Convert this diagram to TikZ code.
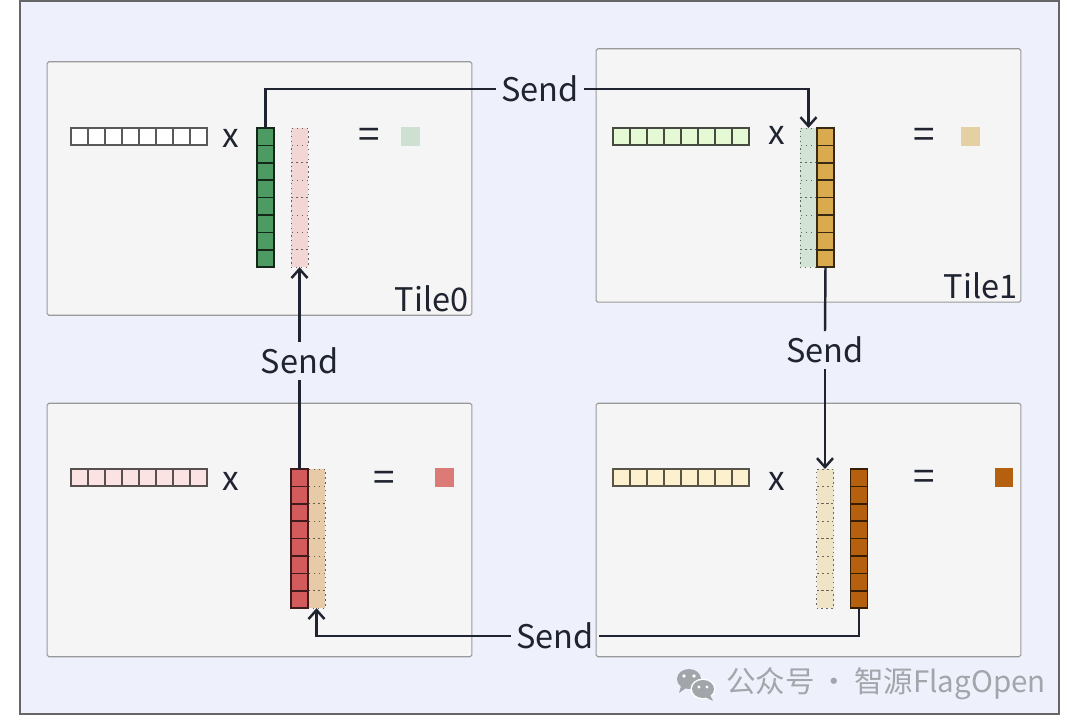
\documentclass[tikz,border=0pt]{standalone}
\usepackage{fontspec}
\setmainfont{Noto Sans CJK SC}
\usepackage{tikz}
\usetikzlibrary{arrows.meta}
\definecolor{PageBg}{HTML}{EEF1FC}
\definecolor{TileBg}{HTML}{F5F5F5}
\definecolor{TextDark}{HTML}{1F2430}
\definecolor{MarkGray}{HTML}{A2A5AA}
\definecolor{RowA}{HTML}{FFFFFF}
\definecolor{RowB}{HTML}{E6F9D5}
\definecolor{RowC}{HTML}{FCE3E3}
\definecolor{RowD}{HTML}{FDF0CF}
\definecolor{GreenCol}{HTML}{4E9A63}
\definecolor{PinkCol}{HTML}{F2D5D5}
\definecolor{MintCol}{HTML}{D3E3D5}
\definecolor{GoldCol}{HTML}{D9AA4E}
\definecolor{RedCol}{HTML}{D45B5B}
\definecolor{TanCol}{HTML}{E7CBA9}
\definecolor{CreamCol}{HTML}{EFE4C6}
\definecolor{BrownCol}{HTML}{B5600F}
\definecolor{ResA}{HTML}{CDE0D2}
\definecolor{ResB}{HTML}{E5D0A4}
\definecolor{ResC}{HTML}{DB7A76}

\begin{document}
\begin{tikzpicture}[x=0.02cm,y=-0.02cm,
    tile/.style={draw=black!40,fill=TileBg,line width=0.6pt,rounded corners=1pt,
      minimum width=8.5cm,minimum height=5.07cm,inner sep=0pt},
    cell/.style={draw,line width=0.6pt,minimum width=0.34cm,minimum height=0.34cm,inner sep=0pt,outer sep=0pt},
    ccell/.style={cell,minimum height=0.348cm,line width=0.8pt},
    dcell/.style={ccell,dotted,line width=0.5pt},
    op/.style={text=TextDark,font=\fontsize{19}{20}\selectfont,inner sep=0pt},
    eq/.style={op,font=\fontsize{22}{24}\selectfont},
    lbl/.style={text=TextDark,font=\fontsize{18.5}{22}\selectfont,inner sep=2pt},
    send/.style={text=TextDark,font=\fontsize{18.5}{22}\selectfont,inner sep=3pt},
    link/.style={line width=1.4pt,TextDark},
    tip/.style={link,-{Straight Barb[length=1.8mm,width=3.2mm]}}]
\useasboundingbox (0,0) rectangle (1080,726);
\draw[fill=PageBg,draw=black!60,line width=0.6pt] (20,1) rectangle (1059,714);

\node[tile] (tile0) at (259.5,188.5) {};
\node[tile] (tile1) at (808.5,175.5) {};
\node[tile] (tile2) at (259.5,530) {};
\node[tile] (tile3) at (808.5,530) {};
\node[lbl,anchor=south east] (name0) at (tile0.south east) {Tile0};
\node[lbl,anchor=south east] (name1) at (tile1.south east) {Tile1};

\foreach \i in {1,...,8} {
  \node[cell,fill=RowA,draw=black!65] (a0-\i) at ({79.5+17*(\i-1)},136.5) {};
  \node[ccell,fill=GreenCol,draw=black!75!GreenCol] (g0-\i) at (265.5,{136.7+17.4*(\i-1)}) {};
  \node[dcell,fill=PinkCol,draw=black!55!PinkCol] (p0-\i) at (299.5,{136.7+17.4*(\i-1)}) {};
  \node[cell,fill=RowB,draw=black!70!RowB] (a1-\i) at ({621.5+17*(\i-1)},136.5) {};
  \node[dcell,fill=MintCol,draw=black!55!MintCol] (m1-\i) at (808.5,{136.7+17.4*(\i-1)}) {};
  \node[cell,fill=RowC,draw=black!65!RowC] (a2-\i) at ({79.5+17*(\i-1)},477.5) {};
  \node[dcell,fill=TanCol,draw=black!55!TanCol] (t2-\i) at (316.5,{477.7+17.4*(\i-1)}) {};
  \node[cell,fill=RowD,draw=black!65!RowD] (a3-\i) at ({621.5+17*(\i-1)},477.5) {};
  \node[dcell,fill=CreamCol,draw=black!55!CreamCol] (c3-\i) at (825,{477.7+17.4*(\i-1)}) {};
  \node[ccell,fill=BrownCol,draw=black!70!BrownCol] (b3-\i) at (859,{477.7+17.4*(\i-1)}) {};
}
\foreach \i in {1,...,8} {
  \node[ccell,fill=GoldCol,draw=black!75!GoldCol] (y1-\i) at (825.5,{136.7+17.4*(\i-1)}) {};
  \node[ccell,fill=RedCol,draw=black!70!RedCol] (r2-\i) at (299.5,{477.7+17.4*(\i-1)}) {};
}

\node[op] (x0) at (231,138) {x};
\node[eq] (e0) at (369,138) {=};
\node[cell,fill=ResA,draw=ResA] (res0) at (410.5,136.5) {};
\node[op] (x1) at (777,135) {x};
\node[eq] (e1) at (924,138) {=};
\node[cell,fill=ResB,draw=ResB] (res1) at (970.5,136.5) {};
\node[op] (x2) at (231,481) {x};
\node[eq] (e2) at (384,481) {=};
\node[cell,fill=ResC,draw=ResC] (res2) at (444.5,477.5) {};
\node[op] (x3) at (777,481) {x};
\node[eq] (e3) at (924,480) {=};
\node[cell,fill=BrownCol,draw=BrownCol] (res3) at (1004,477.5) {};

\node[send] (sendA) at (540,89) {Send};
\node[send] (sendB) at (299.5,361) {Send};
\node[send] (sendC) at (825,350) {Send};
\node[send] (sendD) at (555,636) {Send};

\draw[link] (g0-1.north) |- (sendA.west);
\draw[tip] (sendA.east) -| (m1-1.north);
\draw[link] (y1-8.south) -- (sendC.north);
\draw[tip] (sendC.south) -- (c3-1.north);
\draw[link] (b3-8.south) |- (sendD.east);
\draw[tip] (sendD.west) -| (t2-8.south);
\draw[link] (r2-1.north) -- (sendB.south);
\draw[tip] (sendB.north) -- (p0-8.south);

\fill[MarkGray] (689,679) ellipse (12 and 10);
\fill[MarkGray] (681,686) -- (679,693) -- (686,688) -- cycle;
\fill[white] (703,689) ellipse (12.5 and 10.5);
\fill[MarkGray] (703,689) ellipse (11 and 9);
\fill[MarkGray] (710,695) -- (713,701) -- (705,697) -- cycle;
\fill[white] (684,676) circle (1.8) (694,676) circle (1.8) (699,687) circle (1.6) (707,687) circle (1.6);
\node[text=MarkGray,font=\fontsize{16.8}{20}\selectfont,anchor=west,inner sep=0pt] (mark) at (726,684) {公众号\,·\,智源FlagOpen};
\end{tikzpicture}
\end{document}
